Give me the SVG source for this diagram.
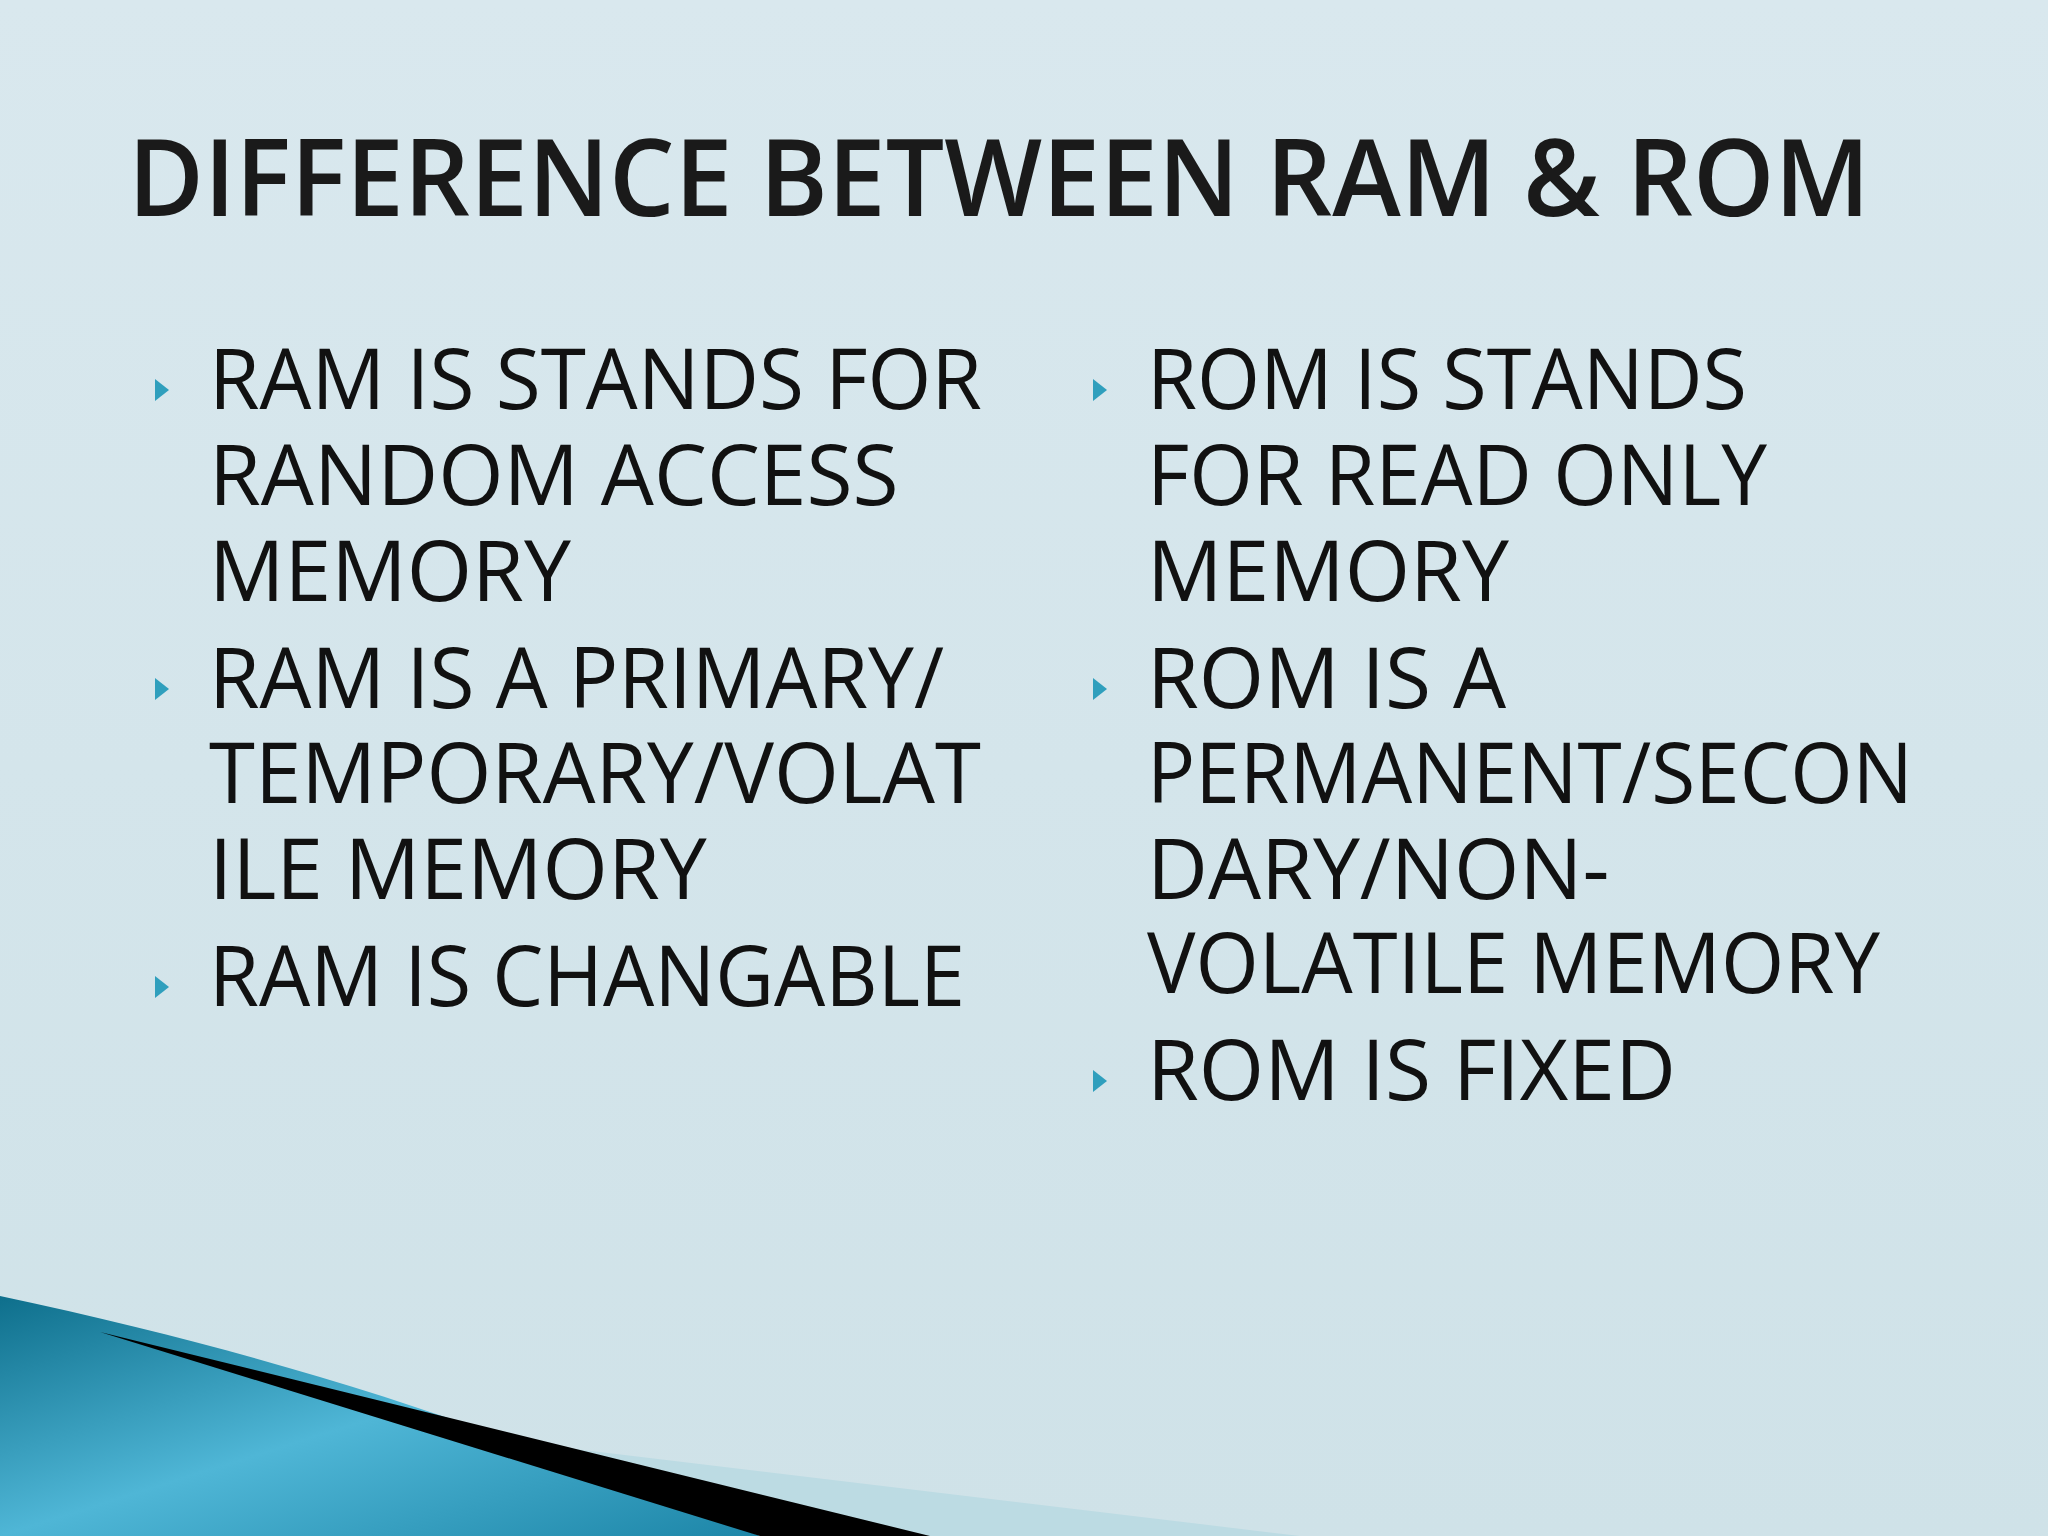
<svg xmlns="http://www.w3.org/2000/svg" width="2048" height="1536" viewBox="0 0 2048 1536">
<defs>
<linearGradient id="bg" x1="0" y1="0" x2="0" y2="1"><stop offset="0" stop-color="#d9e8ee"/><stop offset="1" stop-color="#cfe2e8"/></linearGradient>
<linearGradient id="teal" x1="0" y1="0" x2="1" y2="1"><stop offset="0" stop-color="#0e6f8c"/><stop offset="0.5" stop-color="#4fb6d6"/><stop offset="1" stop-color="#1d86a8"/></linearGradient>
<polygon id="tri" points="0,-11 14,0 0,11" fill="#2f9fbd"/>
</defs>
<style>
.t{font-family:"Open Sans","Liberation Sans",sans-serif;fill:#111;font-size:84px}
.h{font-family:"Open Sans","Liberation Sans",sans-serif;fill:#1a1a1a;font-size:106px;font-weight:600}
</style>
<rect width="2048" height="1536" fill="url(#bg)"/>
<g id="wave">
<polygon points="0,1380 1300,1536 0,1536" fill="#bcdbe3"/>
<path d="M0,1296 C300,1360 500,1430 760,1536 L0,1536 Z" fill="url(#teal)"/>
<polygon points="100,1332 930,1536 760,1536 " fill="#000"/>
</g>
<text class="h" x="128" y="216" textLength="1742" lengthAdjust="spacingAndGlyphs">DIFFERENCE BETWEEN RAM &amp; ROM</text>
<g id="left">
<use href="#tri" x="155" y="390"/><use href="#tri" x="155" y="689"/><use href="#tri" x="155" y="987"/>
<text class="t" x="209" y="409" textLength="773" lengthAdjust="spacingAndGlyphs">RAM IS STANDS FOR</text>
<text class="t" x="209" y="505">RANDOM ACCESS</text>
<text class="t" x="209" y="601">MEMORY</text>
<text class="t" x="209" y="708" textLength="735" lengthAdjust="spacingAndGlyphs">RAM IS A PRIMARY/</text>
<text class="t" x="209" y="803" textLength="772" lengthAdjust="spacingAndGlyphs">TEMPORARY/VOLAT</text>
<text class="t" x="209" y="899">ILE MEMORY</text>
<text class="t" x="209" y="1006" textLength="756" lengthAdjust="spacingAndGlyphs">RAM IS CHANGABLE</text>
</g>
<g id="right">
<use href="#tri" x="1093" y="390"/><use href="#tri" x="1093" y="689"/><use href="#tri" x="1093" y="1081"/>
<text class="t" x="1147" y="409" textLength="600" lengthAdjust="spacingAndGlyphs">ROM IS STANDS</text>
<text class="t" x="1147" y="505" textLength="620" lengthAdjust="spacingAndGlyphs">FOR READ ONLY</text>
<text class="t" x="1147" y="601">MEMORY</text>
<text class="t" x="1147" y="708">ROM IS A</text>
<text class="t" x="1147" y="803" textLength="766" lengthAdjust="spacingAndGlyphs">PERMANENT/SECON</text>
<text class="t" x="1147" y="899">DARY/NON-</text>
<text class="t" x="1147" y="993" textLength="733" lengthAdjust="spacingAndGlyphs">VOLATILE MEMORY</text>
<text class="t" x="1147" y="1100">ROM IS FIXED</text>
</g>
</svg>
